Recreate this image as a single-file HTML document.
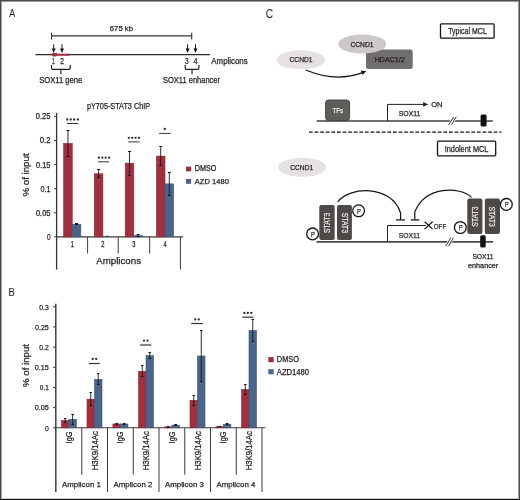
<!DOCTYPE html>
<html><head><meta charset="utf-8"><title>Figure</title>
<style>
html,body{margin:0;padding:0;background:#fff;}
body{width:520px;height:500px;overflow:hidden;position:relative;}
svg{position:absolute;left:0;top:0;display:block;will-change:transform;font-family:"Liberation Sans",sans-serif;}
</style></head>
<body>
<svg width="520" height="500" viewBox="0 0 520 500">
<rect x="0" y="0" width="520" height="500" fill="#fff"/>
<text x="9.20" y="17.40" font-size="11.34" textLength="6.00" lengthAdjust="spacingAndGlyphs" fill="#231f20" stroke="#231f20" stroke-width="0.05" >A</text>
<line x1="51.5" y1="35.9" x2="191.7" y2="35.9" stroke="#333" stroke-width="1.2" />
<line x1="51.5" y1="32.8" x2="51.5" y2="39.6" stroke="#333" stroke-width="1.1" />
<line x1="191.7" y1="32.8" x2="191.7" y2="39.6" stroke="#333" stroke-width="1.1" />
<text x="109.80" y="31.30" font-size="7.99" textLength="23.20" lengthAdjust="spacingAndGlyphs" fill="#231f20" stroke="#231f20" stroke-width="0.25" >675 kb</text>
<line x1="35.5" y1="54.7" x2="209.9" y2="54.7" stroke="#2a2a2a" stroke-width="1.25" />
<path d="M52.3,54.7 L69.8,54.7" stroke="#a0303f" stroke-width="2"/>
<rect x="51.8" y="53.1" width="5.5" height="3.3" rx="1.4" fill="#a0303f"/>
<line x1="53.7" y1="44.3" x2="53.7" y2="49.5" stroke="#111" stroke-width="1"/>
<path d="M51.7,48.4 L55.7,48.4 L53.7,53.0 Z" fill="#111"/>
<line x1="62.0" y1="44.3" x2="62.0" y2="49.5" stroke="#111" stroke-width="1"/>
<path d="M60.0,48.4 L64.0,48.4 L62.0,53.0 Z" fill="#111"/>
<line x1="187.6" y1="44.3" x2="187.6" y2="49.5" stroke="#111" stroke-width="1"/>
<path d="M185.6,48.4 L189.6,48.4 L187.6,53.0 Z" fill="#111"/>
<line x1="195.5" y1="44.3" x2="195.5" y2="49.5" stroke="#111" stroke-width="1"/>
<path d="M193.5,48.4 L197.5,48.4 L195.5,53.0 Z" fill="#111"/>
<text x="52.10" y="64.10" font-size="8.14" textLength="2.70" lengthAdjust="spacingAndGlyphs" fill="#231f20" stroke="#231f20" stroke-width="0.25" >1</text>
<text x="60.30" y="64.10" font-size="8.14" textLength="3.70" lengthAdjust="spacingAndGlyphs" fill="#231f20" stroke="#231f20" stroke-width="0.25" >2</text>
<text x="185.00" y="64.10" font-size="8.14" textLength="3.60" lengthAdjust="spacingAndGlyphs" fill="#231f20" stroke="#231f20" stroke-width="0.25" >3</text>
<text x="193.40" y="64.10" font-size="8.14" textLength="4.00" lengthAdjust="spacingAndGlyphs" fill="#231f20" stroke="#231f20" stroke-width="0.25" >4</text>
<path d="M51.5,65 L51.5,68.1 Q51.5,69.4 52.8,69.4 L68.9,69.4 Q70.2,69.4 70.2,68.1 L70.2,65 M60.85,69.4 L60.85,74.2" fill="none" stroke="#231f20" stroke-width="1.2"/>
<path d="M185.2,65 L185.2,68.1 Q185.2,69.4 186.5,69.4 L197.6,69.4 Q198.9,69.4 198.9,68.1 L198.9,65 M192.05,69.4 L192.05,74.2" fill="none" stroke="#231f20" stroke-width="1.2"/>
<text x="39.20" y="82.80" font-size="8.43" textLength="43.00" lengthAdjust="spacingAndGlyphs" fill="#231f20" stroke="#231f20" stroke-width="0.25" >SOX11 gene</text>
<text x="163.00" y="82.80" font-size="8.43" textLength="57.00" lengthAdjust="spacingAndGlyphs" fill="#231f20" stroke="#231f20" stroke-width="0.25" >SOX11 enhancer</text>
<text x="211.30" y="63.60" font-size="8.28" textLength="36.40" lengthAdjust="spacingAndGlyphs" fill="#231f20" stroke="#231f20" stroke-width="0.25" >Amplicons</text>
<text x="86.90" y="108.50" font-size="8.87" textLength="63.20" lengthAdjust="spacingAndGlyphs" fill="#231f20" stroke="#231f20" stroke-width="0.25" >pY705-STAT3 ChIP</text>
<line x1="56.6" y1="113" x2="56.6" y2="269.6" stroke="#333" stroke-width="1.3" />
<line x1="54.0" y1="236.9" x2="56.5" y2="236.9" stroke="#3a3a3a" stroke-width="1.0" />
<text x="46.90" y="239.80" font-size="8.43" textLength="3.60" lengthAdjust="spacingAndGlyphs" fill="#231f20" stroke="#231f20" stroke-width="0.25" >0</text>
<line x1="54.0" y1="212.8" x2="56.5" y2="212.8" stroke="#3a3a3a" stroke-width="1.0" />
<text x="35.90" y="215.70" font-size="8.43" textLength="14.60" lengthAdjust="spacingAndGlyphs" fill="#231f20" stroke="#231f20" stroke-width="0.25" >0.05</text>
<line x1="54.0" y1="188.7" x2="56.5" y2="188.7" stroke="#3a3a3a" stroke-width="1.0" />
<text x="40.50" y="191.60" font-size="8.43" textLength="10.00" lengthAdjust="spacingAndGlyphs" fill="#231f20" stroke="#231f20" stroke-width="0.25" >0.1</text>
<line x1="54.0" y1="164.6" x2="56.5" y2="164.6" stroke="#3a3a3a" stroke-width="1.0" />
<text x="36.10" y="167.50" font-size="8.43" textLength="14.40" lengthAdjust="spacingAndGlyphs" fill="#231f20" stroke="#231f20" stroke-width="0.25" >0.15</text>
<line x1="54.0" y1="140.5" x2="56.5" y2="140.5" stroke="#3a3a3a" stroke-width="1.0" />
<text x="39.70" y="143.40" font-size="8.43" textLength="10.80" lengthAdjust="spacingAndGlyphs" fill="#231f20" stroke="#231f20" stroke-width="0.25" >0.2</text>
<line x1="54.0" y1="116.4" x2="56.5" y2="116.4" stroke="#3a3a3a" stroke-width="1.0" />
<text x="35.80" y="119.30" font-size="8.43" textLength="14.70" lengthAdjust="spacingAndGlyphs" fill="#231f20" stroke="#231f20" stroke-width="0.25" >0.25</text>
<line x1="56.0" y1="236.9" x2="183.1" y2="236.9" stroke="#3a3a3a" stroke-width="1.1" />
<line x1="87.6" y1="236.9" x2="87.6" y2="253.5" stroke="#3a3a3a" stroke-width="1.0" />
<line x1="118.2" y1="236.9" x2="118.2" y2="253.5" stroke="#3a3a3a" stroke-width="1.0" />
<line x1="149.7" y1="236.9" x2="149.7" y2="253.5" stroke="#3a3a3a" stroke-width="1.0" />
<line x1="180.4" y1="236.9" x2="180.4" y2="269.6" stroke="#3a3a3a" stroke-width="1.0" />
<rect x="63.65" y="143.49" width="8.60" height="93.41" fill="#a0303f" stroke="#8e2535" stroke-width="0.6"/>
<rect x="72.25" y="224.37" width="8.60" height="12.53" fill="#4b6489" stroke="#3e557a" stroke-width="0.6"/>
<rect x="94.30" y="173.76" width="8.60" height="63.14" fill="#a0303f" stroke="#8e2535" stroke-width="0.6"/>
<rect x="125.20" y="163.15" width="8.60" height="73.75" fill="#a0303f" stroke="#8e2535" stroke-width="0.6"/>
<rect x="133.80" y="235.45" width="8.60" height="1.45" fill="#4b6489" stroke="#3e557a" stroke-width="0.6"/>
<rect x="156.40" y="156.12" width="8.60" height="80.78" fill="#a0303f" stroke="#8e2535" stroke-width="0.6"/>
<rect x="165.00" y="183.88" width="8.60" height="53.02" fill="#4b6489" stroke="#3e557a" stroke-width="0.6"/>
<line x1="67.95" y1="130.50" x2="67.95" y2="156.50" stroke="#1a1a1a" stroke-width="0.9"/>
<line x1="66.45" y1="130.50" x2="69.45" y2="130.50" stroke="#1a1a1a" stroke-width="1.1"/>
<line x1="66.45" y1="156.50" x2="69.45" y2="156.50" stroke="#1a1a1a" stroke-width="1.1"/>
<line x1="76.55" y1="223.50" x2="76.55" y2="224.50" stroke="#1a1a1a" stroke-width="0.9"/>
<line x1="75.05" y1="223.50" x2="78.05" y2="223.50" stroke="#1a1a1a" stroke-width="1.1"/>
<line x1="75.05" y1="224.50" x2="78.05" y2="224.50" stroke="#1a1a1a" stroke-width="1.1"/>
<line x1="98.60" y1="169.50" x2="98.60" y2="177.50" stroke="#1a1a1a" stroke-width="0.9"/>
<line x1="97.10" y1="169.50" x2="100.10" y2="169.50" stroke="#1a1a1a" stroke-width="1.1"/>
<line x1="97.10" y1="177.50" x2="100.10" y2="177.50" stroke="#1a1a1a" stroke-width="1.1"/>
<line x1="129.50" y1="151.50" x2="129.50" y2="175.50" stroke="#1a1a1a" stroke-width="0.9"/>
<line x1="128.00" y1="151.50" x2="131.00" y2="151.50" stroke="#1a1a1a" stroke-width="1.1"/>
<line x1="128.00" y1="175.50" x2="131.00" y2="175.50" stroke="#1a1a1a" stroke-width="1.1"/>
<line x1="138.10" y1="234.50" x2="138.10" y2="236.50" stroke="#1a1a1a" stroke-width="0.9"/>
<line x1="136.60" y1="234.50" x2="139.60" y2="234.50" stroke="#1a1a1a" stroke-width="1.1"/>
<line x1="136.60" y1="236.50" x2="139.60" y2="236.50" stroke="#1a1a1a" stroke-width="1.1"/>
<line x1="160.70" y1="146.50" x2="160.70" y2="165.50" stroke="#1a1a1a" stroke-width="0.9"/>
<line x1="159.20" y1="146.50" x2="162.20" y2="146.50" stroke="#1a1a1a" stroke-width="1.1"/>
<line x1="159.20" y1="165.50" x2="162.20" y2="165.50" stroke="#1a1a1a" stroke-width="1.1"/>
<line x1="169.30" y1="172.50" x2="169.30" y2="195.50" stroke="#1a1a1a" stroke-width="0.9"/>
<line x1="167.80" y1="172.50" x2="170.80" y2="172.50" stroke="#1a1a1a" stroke-width="1.1"/>
<line x1="167.80" y1="195.50" x2="170.80" y2="195.50" stroke="#1a1a1a" stroke-width="1.1"/>
<line x1="105.6" y1="236.2" x2="108.8" y2="236.2" stroke="#222" stroke-width="0.8" />
<circle cx="67.20" cy="119.50" r="1.15" fill="#2a2a2a"/>
<circle cx="70.70" cy="119.50" r="1.15" fill="#2a2a2a"/>
<circle cx="74.10" cy="119.50" r="1.15" fill="#2a2a2a"/>
<circle cx="77.90" cy="119.50" r="1.15" fill="#2a2a2a"/>
<line x1="66.9" y1="123.5" x2="78.2" y2="123.5" stroke="#333" stroke-width="1.0" />
<circle cx="98.90" cy="157.70" r="1.15" fill="#2a2a2a"/>
<circle cx="102.30" cy="157.70" r="1.15" fill="#2a2a2a"/>
<circle cx="105.70" cy="157.70" r="1.15" fill="#2a2a2a"/>
<circle cx="109.10" cy="157.70" r="1.15" fill="#2a2a2a"/>
<line x1="98.1" y1="161.8" x2="109.0" y2="161.8" stroke="#333" stroke-width="1.0" />
<circle cx="128.80" cy="137.80" r="1.15" fill="#2a2a2a"/>
<circle cx="132.20" cy="137.80" r="1.15" fill="#2a2a2a"/>
<circle cx="135.60" cy="137.80" r="1.15" fill="#2a2a2a"/>
<circle cx="139.00" cy="137.80" r="1.15" fill="#2a2a2a"/>
<line x1="128.3" y1="141.9" x2="139.6" y2="141.9" stroke="#333" stroke-width="1.0" />
<circle cx="164.80" cy="129.00" r="1.15" fill="#2a2a2a"/>
<line x1="159.1" y1="133.4" x2="170.6" y2="133.4" stroke="#333" stroke-width="1.0" />
<text x="70.65" y="247.20" font-size="8.14" textLength="3.20" lengthAdjust="spacingAndGlyphs" fill="#231f20" stroke="#231f20" stroke-width="0.25" >1</text>
<text x="101.30" y="247.20" font-size="8.14" textLength="3.20" lengthAdjust="spacingAndGlyphs" fill="#231f20" stroke="#231f20" stroke-width="0.25" >2</text>
<text x="132.20" y="247.20" font-size="8.14" textLength="3.20" lengthAdjust="spacingAndGlyphs" fill="#231f20" stroke="#231f20" stroke-width="0.25" >3</text>
<text x="163.40" y="247.20" font-size="8.14" textLength="3.20" lengthAdjust="spacingAndGlyphs" fill="#231f20" stroke="#231f20" stroke-width="0.25" >4</text>
<text x="96.20" y="264.40" font-size="9.59" textLength="44.80" lengthAdjust="spacingAndGlyphs" fill="#231f20" stroke="#231f20" stroke-width="0.25" >Amplicons</text>
<text transform="translate(29.05,196.60) rotate(-90)" x="0" y="0" font-size="9.16" textLength="43.20" lengthAdjust="spacingAndGlyphs" fill="#231f20" stroke="#231f20" stroke-width="0.25">% of input</text>
<rect x="186.00" y="166.60" width="5.10" height="4.70" fill="#a0303f" />
<rect x="186.00" y="179.00" width="5.10" height="4.80" fill="#4b6489" />
<text x="194.80" y="171.40" font-size="8.14" textLength="21.70" lengthAdjust="spacingAndGlyphs" fill="#231f20" stroke="#231f20" stroke-width="0.25" >DMSO</text>
<text x="194.80" y="183.60" font-size="7.85" textLength="34.10" lengthAdjust="spacingAndGlyphs" fill="#231f20" stroke="#231f20" stroke-width="0.25" >AZD 1480</text>
<text x="8.40" y="296.00" font-size="10.47" textLength="6.30" lengthAdjust="spacingAndGlyphs" fill="#231f20" stroke="#231f20" stroke-width="0.05" >B</text>
<line x1="55.8" y1="303.7" x2="55.8" y2="492" stroke="#333" stroke-width="1.4" />
<line x1="53.0" y1="427.8" x2="56.0" y2="427.8" stroke="#3a3a3a" stroke-width="1.0" />
<text x="45.00" y="430.55" font-size="7.99" textLength="3.80" lengthAdjust="spacingAndGlyphs" fill="#231f20" stroke="#231f20" stroke-width="0.25" >0</text>
<line x1="53.0" y1="407.625" x2="56.0" y2="407.625" stroke="#3a3a3a" stroke-width="1.0" />
<text x="34.80" y="410.38" font-size="7.99" textLength="14.00" lengthAdjust="spacingAndGlyphs" fill="#231f20" stroke="#231f20" stroke-width="0.25" >0.05</text>
<line x1="53.0" y1="387.45" x2="56.0" y2="387.45" stroke="#3a3a3a" stroke-width="1.0" />
<text x="39.80" y="390.20" font-size="7.99" textLength="9.00" lengthAdjust="spacingAndGlyphs" fill="#231f20" stroke="#231f20" stroke-width="0.25" >0.1</text>
<line x1="53.0" y1="367.275" x2="56.0" y2="367.275" stroke="#3a3a3a" stroke-width="1.0" />
<text x="34.80" y="370.02" font-size="7.99" textLength="14.00" lengthAdjust="spacingAndGlyphs" fill="#231f20" stroke="#231f20" stroke-width="0.25" >0.15</text>
<line x1="53.0" y1="347.1" x2="56.0" y2="347.1" stroke="#3a3a3a" stroke-width="1.0" />
<text x="39.30" y="349.85" font-size="7.99" textLength="9.50" lengthAdjust="spacingAndGlyphs" fill="#231f20" stroke="#231f20" stroke-width="0.25" >0.2</text>
<line x1="53.0" y1="326.925" x2="56.0" y2="326.925" stroke="#3a3a3a" stroke-width="1.0" />
<text x="35.00" y="329.68" font-size="7.99" textLength="13.80" lengthAdjust="spacingAndGlyphs" fill="#231f20" stroke="#231f20" stroke-width="0.25" >0.25</text>
<line x1="53.0" y1="306.75" x2="56.0" y2="306.75" stroke="#3a3a3a" stroke-width="1.0" />
<text x="39.30" y="309.50" font-size="7.99" textLength="9.50" lengthAdjust="spacingAndGlyphs" fill="#231f20" stroke="#231f20" stroke-width="0.25" >0.3</text>
<line x1="55.5" y1="427.8" x2="265.4" y2="427.8" stroke="#3a3a3a" stroke-width="1.1" />
<line x1="107.5" y1="427.8" x2="107.5" y2="492" stroke="#3a3a3a" stroke-width="1.0" />
<line x1="159.0" y1="427.8" x2="159.0" y2="492" stroke="#3a3a3a" stroke-width="1.0" />
<line x1="210.5" y1="427.8" x2="210.5" y2="492" stroke="#3a3a3a" stroke-width="1.0" />
<line x1="262.0" y1="427.8" x2="262.0" y2="492" stroke="#3a3a3a" stroke-width="1.0" />
<line x1="81.75" y1="427.8" x2="81.75" y2="474.7" stroke="#3a3a3a" stroke-width="1.0" />
<line x1="133.25" y1="427.8" x2="133.25" y2="474.7" stroke="#3a3a3a" stroke-width="1.0" />
<line x1="184.75" y1="427.8" x2="184.75" y2="474.7" stroke="#3a3a3a" stroke-width="1.0" />
<line x1="236.25" y1="427.8" x2="236.25" y2="474.7" stroke="#3a3a3a" stroke-width="1.0" />
<rect x="61.40" y="420.54" width="7.50" height="7.26" fill="#a0303f" stroke="#8e2535" stroke-width="0.6"/>
<rect x="68.90" y="419.33" width="7.50" height="8.47" fill="#4b6489" stroke="#3e557a" stroke-width="0.6"/>
<rect x="87.00" y="399.15" width="7.50" height="28.65" fill="#a0303f" stroke="#8e2535" stroke-width="0.6"/>
<rect x="94.50" y="379.38" width="7.50" height="48.42" fill="#4b6489" stroke="#3e557a" stroke-width="0.6"/>
<line x1="65.15" y1="418.50" x2="65.15" y2="422.50" stroke="#1a1a1a" stroke-width="0.9"/>
<line x1="63.85" y1="418.50" x2="66.45" y2="418.50" stroke="#1a1a1a" stroke-width="1.1"/>
<line x1="63.85" y1="422.50" x2="66.45" y2="422.50" stroke="#1a1a1a" stroke-width="1.1"/>
<line x1="72.65" y1="414.50" x2="72.65" y2="424.50" stroke="#1a1a1a" stroke-width="0.9"/>
<line x1="71.35" y1="414.50" x2="73.95" y2="414.50" stroke="#1a1a1a" stroke-width="1.1"/>
<line x1="71.35" y1="424.50" x2="73.95" y2="424.50" stroke="#1a1a1a" stroke-width="1.1"/>
<line x1="90.75" y1="392.50" x2="90.75" y2="405.50" stroke="#1a1a1a" stroke-width="0.9"/>
<line x1="89.45" y1="392.50" x2="92.05" y2="392.50" stroke="#1a1a1a" stroke-width="1.1"/>
<line x1="89.45" y1="405.50" x2="92.05" y2="405.50" stroke="#1a1a1a" stroke-width="1.1"/>
<line x1="98.25" y1="373.50" x2="98.25" y2="384.50" stroke="#1a1a1a" stroke-width="0.9"/>
<line x1="96.95" y1="373.50" x2="99.55" y2="373.50" stroke="#1a1a1a" stroke-width="1.1"/>
<line x1="96.95" y1="384.50" x2="99.55" y2="384.50" stroke="#1a1a1a" stroke-width="1.1"/>
<text transform="translate(71.50,443.40) rotate(-90)" x="0" y="0" font-size="8.14" textLength="11.80" lengthAdjust="spacingAndGlyphs" fill="#231f20" stroke="#231f20" stroke-width="0.25">IgG</text>
<text transform="translate(97.90,470.30) rotate(-90)" x="0" y="0" font-size="8.43" textLength="39.30" lengthAdjust="spacingAndGlyphs" fill="#231f20" stroke="#231f20" stroke-width="0.25">H3K9/14Ac</text>
<text x="62.00" y="487.20" font-size="7.99" textLength="38.80" lengthAdjust="spacingAndGlyphs" fill="#231f20" stroke="#231f20" stroke-width="0.25" >Amplicon 1</text>
<rect x="112.90" y="423.97" width="7.50" height="3.83" fill="#a0303f" stroke="#8e2535" stroke-width="0.6"/>
<rect x="120.40" y="423.97" width="7.50" height="3.83" fill="#4b6489" stroke="#3e557a" stroke-width="0.6"/>
<rect x="138.50" y="371.31" width="7.50" height="56.49" fill="#a0303f" stroke="#8e2535" stroke-width="0.6"/>
<rect x="146.00" y="355.57" width="7.50" height="72.23" fill="#4b6489" stroke="#3e557a" stroke-width="0.6"/>
<line x1="116.65" y1="423.50" x2="116.65" y2="424.50" stroke="#1a1a1a" stroke-width="0.9"/>
<line x1="115.35" y1="423.50" x2="117.95" y2="423.50" stroke="#1a1a1a" stroke-width="1.1"/>
<line x1="115.35" y1="424.50" x2="117.95" y2="424.50" stroke="#1a1a1a" stroke-width="1.1"/>
<line x1="124.15" y1="423.50" x2="124.15" y2="424.50" stroke="#1a1a1a" stroke-width="0.9"/>
<line x1="122.85" y1="423.50" x2="125.45" y2="423.50" stroke="#1a1a1a" stroke-width="1.1"/>
<line x1="122.85" y1="424.50" x2="125.45" y2="424.50" stroke="#1a1a1a" stroke-width="1.1"/>
<line x1="142.25" y1="365.50" x2="142.25" y2="376.50" stroke="#1a1a1a" stroke-width="0.9"/>
<line x1="140.95" y1="365.50" x2="143.55" y2="365.50" stroke="#1a1a1a" stroke-width="1.1"/>
<line x1="140.95" y1="376.50" x2="143.55" y2="376.50" stroke="#1a1a1a" stroke-width="1.1"/>
<line x1="149.75" y1="352.50" x2="149.75" y2="358.50" stroke="#1a1a1a" stroke-width="0.9"/>
<line x1="148.45" y1="352.50" x2="151.05" y2="352.50" stroke="#1a1a1a" stroke-width="1.1"/>
<line x1="148.45" y1="358.50" x2="151.05" y2="358.50" stroke="#1a1a1a" stroke-width="1.1"/>
<text transform="translate(123.00,443.40) rotate(-90)" x="0" y="0" font-size="8.14" textLength="11.80" lengthAdjust="spacingAndGlyphs" fill="#231f20" stroke="#231f20" stroke-width="0.25">IgG</text>
<text transform="translate(149.40,470.30) rotate(-90)" x="0" y="0" font-size="8.43" textLength="39.30" lengthAdjust="spacingAndGlyphs" fill="#231f20" stroke="#231f20" stroke-width="0.25">H3K9/14Ac</text>
<text x="113.50" y="487.20" font-size="7.99" textLength="38.80" lengthAdjust="spacingAndGlyphs" fill="#231f20" stroke="#231f20" stroke-width="0.25" >Amplicon 2</text>
<rect x="164.40" y="426.91" width="7.50" height="0.89" fill="#a0303f" stroke="#8e2535" stroke-width="0.6"/>
<rect x="171.90" y="425.10" width="7.50" height="2.70" fill="#4b6489" stroke="#3e557a" stroke-width="0.6"/>
<rect x="190.00" y="400.36" width="7.50" height="27.44" fill="#a0303f" stroke="#8e2535" stroke-width="0.6"/>
<rect x="197.50" y="355.98" width="7.50" height="71.82" fill="#4b6489" stroke="#3e557a" stroke-width="0.6"/>
<line x1="168.15" y1="426.50" x2="168.15" y2="427.50" stroke="#1a1a1a" stroke-width="0.9"/>
<line x1="166.85" y1="426.50" x2="169.45" y2="426.50" stroke="#1a1a1a" stroke-width="1.1"/>
<line x1="166.85" y1="427.50" x2="169.45" y2="427.50" stroke="#1a1a1a" stroke-width="1.1"/>
<line x1="175.65" y1="424.50" x2="175.65" y2="425.50" stroke="#1a1a1a" stroke-width="0.9"/>
<line x1="174.35" y1="424.50" x2="176.95" y2="424.50" stroke="#1a1a1a" stroke-width="1.1"/>
<line x1="174.35" y1="425.50" x2="176.95" y2="425.50" stroke="#1a1a1a" stroke-width="1.1"/>
<line x1="193.75" y1="395.50" x2="193.75" y2="405.50" stroke="#1a1a1a" stroke-width="0.9"/>
<line x1="192.45" y1="395.50" x2="195.05" y2="395.50" stroke="#1a1a1a" stroke-width="1.1"/>
<line x1="192.45" y1="405.50" x2="195.05" y2="405.50" stroke="#1a1a1a" stroke-width="1.1"/>
<line x1="201.25" y1="330.50" x2="201.25" y2="381.50" stroke="#1a1a1a" stroke-width="0.9"/>
<line x1="199.95" y1="330.50" x2="202.55" y2="330.50" stroke="#1a1a1a" stroke-width="1.1"/>
<line x1="199.95" y1="381.50" x2="202.55" y2="381.50" stroke="#1a1a1a" stroke-width="1.1"/>
<text transform="translate(174.50,443.40) rotate(-90)" x="0" y="0" font-size="8.14" textLength="11.80" lengthAdjust="spacingAndGlyphs" fill="#231f20" stroke="#231f20" stroke-width="0.25">IgG</text>
<text transform="translate(200.90,470.30) rotate(-90)" x="0" y="0" font-size="8.43" textLength="39.30" lengthAdjust="spacingAndGlyphs" fill="#231f20" stroke="#231f20" stroke-width="0.25">H3K9/14Ac</text>
<text x="165.00" y="487.20" font-size="7.99" textLength="38.80" lengthAdjust="spacingAndGlyphs" fill="#231f20" stroke="#231f20" stroke-width="0.25" >Amplicon 3</text>
<rect x="215.90" y="426.59" width="7.50" height="1.21" fill="#a0303f" stroke="#8e2535" stroke-width="0.6"/>
<rect x="223.40" y="424.17" width="7.50" height="3.63" fill="#4b6489" stroke="#3e557a" stroke-width="0.6"/>
<rect x="241.50" y="389.47" width="7.50" height="38.33" fill="#a0303f" stroke="#8e2535" stroke-width="0.6"/>
<rect x="249.00" y="330.56" width="7.50" height="97.24" fill="#4b6489" stroke="#3e557a" stroke-width="0.6"/>
<line x1="219.65" y1="426.50" x2="219.65" y2="426.50" stroke="#1a1a1a" stroke-width="0.9"/>
<line x1="218.35" y1="426.50" x2="220.95" y2="426.50" stroke="#1a1a1a" stroke-width="1.1"/>
<line x1="218.35" y1="426.50" x2="220.95" y2="426.50" stroke="#1a1a1a" stroke-width="1.1"/>
<line x1="227.15" y1="423.50" x2="227.15" y2="424.50" stroke="#1a1a1a" stroke-width="0.9"/>
<line x1="225.85" y1="423.50" x2="228.45" y2="423.50" stroke="#1a1a1a" stroke-width="1.1"/>
<line x1="225.85" y1="424.50" x2="228.45" y2="424.50" stroke="#1a1a1a" stroke-width="1.1"/>
<line x1="245.25" y1="384.50" x2="245.25" y2="394.50" stroke="#1a1a1a" stroke-width="0.9"/>
<line x1="243.95" y1="384.50" x2="246.55" y2="384.50" stroke="#1a1a1a" stroke-width="1.1"/>
<line x1="243.95" y1="394.50" x2="246.55" y2="394.50" stroke="#1a1a1a" stroke-width="1.1"/>
<line x1="252.75" y1="319.50" x2="252.75" y2="341.50" stroke="#1a1a1a" stroke-width="0.9"/>
<line x1="251.45" y1="319.50" x2="254.05" y2="319.50" stroke="#1a1a1a" stroke-width="1.1"/>
<line x1="251.45" y1="341.50" x2="254.05" y2="341.50" stroke="#1a1a1a" stroke-width="1.1"/>
<text transform="translate(226.00,443.40) rotate(-90)" x="0" y="0" font-size="8.14" textLength="11.80" lengthAdjust="spacingAndGlyphs" fill="#231f20" stroke="#231f20" stroke-width="0.25">IgG</text>
<text transform="translate(252.40,470.30) rotate(-90)" x="0" y="0" font-size="8.43" textLength="39.30" lengthAdjust="spacingAndGlyphs" fill="#231f20" stroke="#231f20" stroke-width="0.25">H3K9/14Ac</text>
<text x="216.50" y="487.20" font-size="7.99" textLength="38.80" lengthAdjust="spacingAndGlyphs" fill="#231f20" stroke="#231f20" stroke-width="0.25" >Amplicon 4</text>
<circle cx="92.70" cy="358.90" r="1.15" fill="#2a2a2a"/>
<circle cx="96.20" cy="358.90" r="1.15" fill="#2a2a2a"/>
<line x1="89.0" y1="363.5" x2="99.8" y2="363.5" stroke="#333" stroke-width="1.2" />
<circle cx="144.00" cy="340.60" r="1.15" fill="#2a2a2a"/>
<circle cx="147.50" cy="340.60" r="1.15" fill="#2a2a2a"/>
<line x1="140.1" y1="345.0" x2="151.2" y2="345.0" stroke="#333" stroke-width="1.2" />
<circle cx="195.20" cy="319.40" r="1.15" fill="#2a2a2a"/>
<circle cx="198.70" cy="319.40" r="1.15" fill="#2a2a2a"/>
<line x1="191.2" y1="323.5" x2="202.8" y2="323.5" stroke="#333" stroke-width="1.2" />
<circle cx="244.30" cy="312.90" r="1.15" fill="#2a2a2a"/>
<circle cx="247.80" cy="312.90" r="1.15" fill="#2a2a2a"/>
<circle cx="251.30" cy="312.90" r="1.15" fill="#2a2a2a"/>
<line x1="242.3" y1="317.2" x2="253.3" y2="317.2" stroke="#333" stroke-width="1.2" />
<text transform="translate(29.05,387.00) rotate(-90)" x="0" y="0" font-size="9.16" textLength="43.00" lengthAdjust="spacingAndGlyphs" fill="#231f20" stroke="#231f20" stroke-width="0.25">% of input</text>
<rect x="268.30" y="357.10" width="5.40" height="5.10" fill="#a0303f" />
<rect x="268.30" y="369.20" width="5.40" height="5.10" fill="#4b6489" />
<text x="276.80" y="362.20" font-size="8.43" textLength="22.20" lengthAdjust="spacingAndGlyphs" fill="#231f20" stroke="#231f20" stroke-width="0.25" >DMSO</text>
<text x="276.80" y="374.60" font-size="8.14" textLength="32.30" lengthAdjust="spacingAndGlyphs" fill="#231f20" stroke="#231f20" stroke-width="0.25" >AZD1480</text>
<text x="265.80" y="17.90" font-size="12.35" textLength="7.40" lengthAdjust="spacingAndGlyphs" fill="#231f20" stroke="#231f20" stroke-width="0.0" >C</text>
<rect x="440.5" y="23.8" width="53.6" height="14.4" rx="1" fill="#fff" stroke="#151515" stroke-width="1.3"/>
<text x="448.20" y="34.20" font-size="8.72" textLength="38.60" lengthAdjust="spacingAndGlyphs" fill="#231f20" stroke="#231f20" stroke-width="0.25" >Typical MCL</text>
<ellipse cx="300.8" cy="59.8" rx="24.2" ry="9.5" fill="#e6e2e1"/>
<text x="289.50" y="62.20" font-size="7.85" textLength="23.10" lengthAdjust="spacingAndGlyphs" fill="#231f20" stroke="#231f20" stroke-width="0.25" >CCND1</text>
<rect x="366" y="49.6" width="46.7" height="19.5" rx="2.5" fill="#6f6d6d"/>
<text x="374.70" y="62.00" font-size="7.85" textLength="30.10" lengthAdjust="spacingAndGlyphs" fill="#231f20" stroke="#231f20" stroke-width="0.25" >HDAC1/2</text>
<ellipse cx="362.3" cy="44.0" rx="24" ry="9.5" fill="#cdc8c8"/>
<text x="350.40" y="46.70" font-size="7.85" textLength="23.20" lengthAdjust="spacingAndGlyphs" fill="#231f20" stroke="#231f20" stroke-width="0.25" >CCND1</text>
<path d="M305.8,70 Q335.8,82.6 362.5,72.6" fill="none" stroke="#111" stroke-width="1.25"/>
<path d="M366.2,71.3 L360.8,70.6 L362.6,75.0 Z" fill="#111"/>
<rect x="325.6" y="100" width="24" height="20.5" rx="3" fill="#5e5d5a" stroke="#4a4946" stroke-width="1"/>
<text x="332.50" y="112.70" font-size="7.85" textLength="10.50" lengthAdjust="spacingAndGlyphs" fill="#f0f0f0" stroke="#f0f0f0" stroke-width="0.25" >TFs</text>
<line x1="316.7" y1="120.9" x2="492.7" y2="120.9" stroke="#404040" stroke-width="1.5" />
<path d="M387.5,121 L387.5,104.4 L424.5,104.4" fill="none" stroke="#231f20" stroke-width="1"/>
<path d="M428.2,104.4 L423.2,102.1 L423.2,106.7 Z" fill="#231f20"/>
<text x="431.20" y="107.00" font-size="7.85" textLength="11.30" lengthAdjust="spacingAndGlyphs" fill="#231f20" stroke="#231f20" stroke-width="0.25" >ON</text>
<text x="398.80" y="116.40" font-size="7.85" textLength="21.60" lengthAdjust="spacingAndGlyphs" fill="#231f20" stroke="#231f20" stroke-width="0.25" >SOX11</text>
<path d="M448.6,125 L453.8,116.8 M451.2,125 L456.4,116.8" stroke="#fff" stroke-width="2.2"/>
<path d="M448.6,125 L453.6,116.9 M451.4,125 L456.2,116.9" stroke="#231f20" stroke-width="0.9"/>
<rect x="480.6" y="114.4" width="6" height="12.2" rx="1.5" fill="#111"/>
<line x1="309" y1="132.1" x2="501.5" y2="132.1" stroke="#151515" stroke-width="1.4" stroke-dasharray="3.7 1.9"/>
<rect x="437.5" y="141.2" width="58.2" height="14.6" rx="1" fill="#fff" stroke="#151515" stroke-width="1.3"/>
<text x="444.70" y="151.50" font-size="8.72" textLength="43.70" lengthAdjust="spacingAndGlyphs" fill="#231f20" stroke="#231f20" stroke-width="0.25" >Indolent MCL</text>
<ellipse cx="302" cy="167.3" rx="24" ry="9.5" fill="#e6e2e1"/>
<text x="290.20" y="169.90" font-size="7.85" textLength="23.10" lengthAdjust="spacingAndGlyphs" fill="#231f20" stroke="#231f20" stroke-width="0.25" >CCND1</text>
<line x1="316.5" y1="241.9" x2="493.0" y2="241.9" stroke="#4a4a4a" stroke-width="1.6" />
<rect x="319.3" y="205.0" width="15.4" height="35.1" rx="2" fill="#4c4946"/>
<rect x="337.0" y="205.0" width="14.9" height="35.1" rx="2" fill="#4c4946"/>
<rect x="467.3" y="198.5" width="15.1" height="35.5" rx="2" fill="#4c4946"/>
<rect x="484.8" y="198.5" width="15.2" height="35.5" rx="2" fill="#4c4946"/>
<text transform="translate(329.80,233.00) rotate(-90)" x="0" y="0" font-size="8.14" textLength="20.30" lengthAdjust="spacingAndGlyphs" fill="#e6e6e6" stroke="#e6e6e6" stroke-width="0.25">STAT3</text>
<text transform="translate(341.70,212.70) rotate(90)" x="0" y="0" font-size="8.14" textLength="20.30" lengthAdjust="spacingAndGlyphs" fill="#e6e6e6" stroke="#e6e6e6" stroke-width="0.25">STAT3</text>
<text transform="translate(477.90,226.80) rotate(-90)" x="0" y="0" font-size="8.14" textLength="20.30" lengthAdjust="spacingAndGlyphs" fill="#e6e6e6" stroke="#e6e6e6" stroke-width="0.25">STAT3</text>
<text transform="translate(489.30,206.50) rotate(90)" x="0" y="0" font-size="8.14" textLength="20.30" lengthAdjust="spacingAndGlyphs" fill="#e6e6e6" stroke="#e6e6e6" stroke-width="0.25">STAT3</text>
<circle cx="312.6" cy="233.9" r="5.9" fill="#fff" stroke="#151515" stroke-width="1.3"/>
<text x="311.00" y="236.60" font-size="7.85" textLength="3.90" lengthAdjust="spacingAndGlyphs" fill="#231f20" stroke="#231f20" stroke-width="0.25" >P</text>
<circle cx="358.6" cy="210.8" r="5.9" fill="#fff" stroke="#151515" stroke-width="1.3"/>
<text x="357.00" y="213.50" font-size="7.85" textLength="3.90" lengthAdjust="spacingAndGlyphs" fill="#231f20" stroke="#231f20" stroke-width="0.25" >P</text>
<circle cx="460.35" cy="227.5" r="5.9" fill="#fff" stroke="#151515" stroke-width="1.3"/>
<text x="458.75" y="230.20" font-size="7.85" textLength="3.90" lengthAdjust="spacingAndGlyphs" fill="#231f20" stroke="#231f20" stroke-width="0.25" >P</text>
<circle cx="506.35" cy="204.4" r="5.9" fill="#fff" stroke="#151515" stroke-width="1.3"/>
<text x="504.75" y="207.10" font-size="7.85" textLength="3.90" lengthAdjust="spacingAndGlyphs" fill="#231f20" stroke="#231f20" stroke-width="0.25" >P</text>
<path d="M337.6,202 C349,186.5 391,184 400.6,213 L400.6,219.8" fill="none" stroke="#151515" stroke-width="1.2"/>
<line x1="395.9" y1="219.9" x2="405.0" y2="219.9" stroke="#231f20" stroke-width="1.3" />
<path d="M471.6,197.4 C460,186 425,186 414.8,212 L414.8,219.8" fill="none" stroke="#151515" stroke-width="1.2"/>
<line x1="410.8" y1="219.9" x2="419.4" y2="219.9" stroke="#231f20" stroke-width="1.3" />
<path d="M387.5,241.9 L387.5,225.5 L426.0,225.5" fill="none" stroke="#231f20" stroke-width="1"/>
<path d="M424.6,221.8 L432.6,229.1 M424.6,229.1 L432.6,221.8" stroke="#111" stroke-width="1.2"/>
<text x="433.80" y="228.90" font-size="7.56" textLength="12.40" lengthAdjust="spacingAndGlyphs" fill="#231f20" stroke="#231f20" stroke-width="0.25" >OFF</text>
<text x="398.80" y="237.60" font-size="7.85" textLength="21.30" lengthAdjust="spacingAndGlyphs" fill="#231f20" stroke="#231f20" stroke-width="0.25" >SOX11</text>
<path d="M445.8,246.2 L451.0,237.6 M448.4,246.2 L453.6,237.6" stroke="#fff" stroke-width="2.2"/>
<path d="M445.8,246.2 L450.8,237.7 M448.6,246.2 L453.4,237.7" stroke="#231f20" stroke-width="0.9"/>
<rect x="480.2" y="235.3" width="5.5" height="12.1" rx="1.5" fill="#111"/>
<text x="472.40" y="258.50" font-size="7.85" textLength="21.10" lengthAdjust="spacingAndGlyphs" fill="#231f20" stroke="#231f20" stroke-width="0.25" >SOX11</text>
<text x="468.00" y="267.60" font-size="7.85" textLength="30.30" lengthAdjust="spacingAndGlyphs" fill="#231f20" stroke="#231f20" stroke-width="0.25" >enhancer</text>
<rect x="0" y="1" width="1" height="498" fill="#4a4a4a"/>
<rect x="1" y="1" width="1" height="497" fill="#a0a0a0"/>
<rect x="0" y="0" width="520" height="1" fill="#4a4a4a"/>
<rect x="1" y="1" width="517" height="1" fill="#9a9a9a"/>
<rect x="519" y="1" width="1" height="498" fill="#505050"/>
<rect x="518" y="1" width="1" height="497" fill="#9a9a9a"/>
<rect x="0" y="499" width="520" height="1" fill="#151515"/>
<rect x="1" y="498" width="518" height="1" fill="#c8c8c8"/>
</svg>
</body></html>
